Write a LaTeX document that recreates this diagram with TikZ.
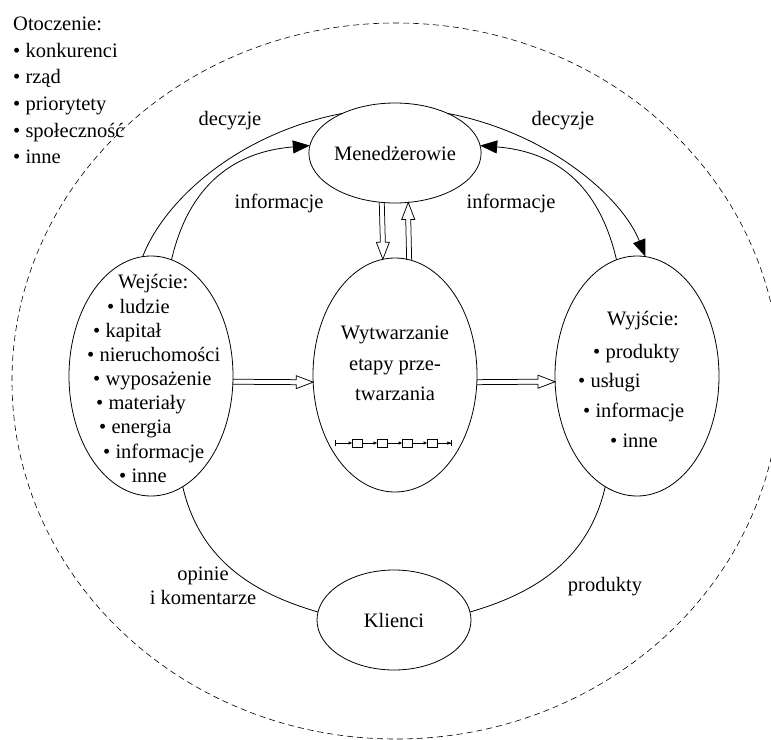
\documentclass[tikz,border=0pt]{standalone}
\usepackage{fontspec}
\setmainfont{Liberation Serif}
\usetikzlibrary{arrows.meta,calc,shapes.geometric}
\begin{document}
\begin{tikzpicture}[x=1pt,y=-1pt,
  txt/.style={font=\fontsize{20.5}{24}\selectfont, inner sep=0pt},
  lst/.style={txt, anchor=base west},
  ctr/.style={txt, anchor=base},
  ell/.style={draw, ellipse, line width=0.8pt, inner sep=0pt, outer sep=0pt, font=\fontsize{20.5}{24}\selectfont},
  bigell/.style={ell, minimum width=164pt, minimum height=240pt},
  midell/.style={ell, minimum width=164pt, minimum height=234pt},
  smallell/.style={ell, minimum width=154pt, minimum height=100pt},
  conn/.style={line width=0.8pt},
  bigtip/.style={-{Triangle[length=17pt,width=13pt]}},
  hollow/.style={line width=0.75pt, line join=miter},
  cbox/.style={draw, line width=0.6pt, minimum width=10pt, minimum height=8pt, inner sep=0pt, outer sep=0pt},
  clink/.style={line width=0.6pt, -{Latex[length=4pt,width=3.5pt]}}
]
\useasboundingbox (0,0) rectangle (771,739);
\begin{scope}
  \clip (0,0) rectangle (771,739);
  \draw[dash pattern=on 6pt off 4pt, line width=0.6pt] (396,381) ellipse [x radius=384pt, y radius=358pt];
\end{scope}

% main nodes
\node[smallell] (men) at (395,153) {Menedżerowie};
\node[bigell] (wej) at (151,376) {};
\node[midell] (wyt) at (395,375) {};
\node[bigell] (wyj) at (637,376) {};
\node[smallell] (kli) at (394,620) {Klienci};

% curved connectors
\draw[conn] (wej.94) .. controls +(22,-57) and +(-104,20) .. (men.143);
\draw[conn, bigtip] (wej.80) .. controls +(18,-77) and +(-74,6) .. (men.175);
\draw[conn, bigtip] (men.37) .. controls +(104,20) and +(-22,-57) .. (wyj.86);
\draw[conn, bigtip] (wyj.100) .. controls +(-18,-77) and +(74,6) .. (men.5);
\draw[conn] (wej.-74) .. controls +(18,78) and +(-58,-17) .. (kli.174);
\draw[conn] (wyj.-106) .. controls +(-18,78) and +(58,-17) .. (kli.6);

% hollow arrows
\coordinate (h1t) at (wej.-4.3);
\coordinate (h1p) at (wyt.185);
\draw[hollow] ($(h1t)+(0,-2.5)$) -- ($(h1p)+(-17,-2.5)$) -- ($(h1p)+(-17,-6.5)$) -- (h1p) -- ($(h1p)+(-17,6.5)$) -- ($(h1p)+(-17,2.5)$) -- ($(h1t)+(0,2.5)$);
\coordinate (h2t) at (wyt.-5);
\coordinate (h2p) at (wyj.184.3);
\draw[hollow] ($(h2t)+(0,-2.5)$) -- ($(h2p)+(-17,-2.5)$) -- ($(h2p)+(-17,-6.5)$) -- (h2p) -- ($(h2p)+(-17,6.5)$) -- ($(h2p)+(-17,2.5)$) -- ($(h2t)+(0,2.5)$);
\coordinate (h3t) at (men.-105);
\coordinate (h3p) at (wyt.96.4);
\draw[hollow] ($(h3t)+(-2.5,0)$) -- ($(h3p)+(-2.5,-17)$) -- ($(h3p)+(-6.5,-17)$) -- (h3p) -- ($(h3p)+(6.5,-17)$) -- ($(h3p)+(2.5,-17)$) -- ($(h3t)+(2.5,0)$);
\coordinate (h4t) at (wyt.83.6);
\coordinate (h4p) at (men.-75);
\draw[hollow] ($(h4t)+(-2.5,0)$) -- ($(h4p)+(-2.5,17)$) -- ($(h4p)+(-6.5,17)$) -- (h4p) -- ($(h4p)+(6.5,17)$) -- ($(h4p)+(2.5,17)$) -- ($(h4t)+(2.5,0)$);

% process chain
\coordinate (cs) at (335,443);
\node[cbox] (c1) at (357.5,443) {};
\node[cbox] (c2) at (382.5,443) {};
\node[cbox] (c3) at (407.5,443) {};
\node[cbox] (c4) at (432.5,443) {};
\coordinate (ce) at (452,443);
\draw[line width=0.6pt, {Bar[width=6pt]}-{Latex[length=4pt,width=3.5pt]}] (cs) -- (c1);
\draw[clink] (c1) -- (c2);
\draw[clink] (c2) -- (c3);
\draw[clink] (c3) -- (c4);
\draw[line width=0.6pt, -{Latex[length=4pt,width=3.5pt]Bar[width=6pt]}] (c4) -- (ce);

% environment list
\node[lst] (ot0) at (13,30) {Otoczenie:};
\node[lst] (ot1) at (13,57) {• konkurenci};
\node[lst] (ot2) at (13,83) {• rząd};
\node[lst] (ot3) at (13,110) {• priorytety};
\node[lst] (ot4) at (13,137) {• społeczność};
\node[lst] (ot5) at (13,163) {• inne};

% arc labels
\node[ctr] (d1) at (230,125) {decyzje};
\node[ctr] (d2) at (563,125) {decyzje};
\node[ctr] (i1) at (279,208) {informacje};
\node[ctr] (i2) at (511,208) {informacje};
\node[ctr] (op1) at (203,580) {opinie};
\node[ctr] (op2) at (203,604) {i komentarze};
\node[ctr] (pr) at (605,591) {produkty};

% production text
\node[ctr] (w1) at (395,339) {Wytwarzanie};
\node[ctr] (w2) at (395,370) {etapy prze-};
\node[ctr] (w3) at (395,400) {twarzania};

% input list
\node[lst] (e0) at (118,288) {Wejście:};
\node[lst] (e1) at (107,313) {• ludzie};
\node[lst] (e2) at (93,337) {• kapitał};
\node[lst] (e3) at (87,361) {• nieruchomości};
\node[lst] (e4) at (93,385) {• wyposażenie};
\node[lst] (e5) at (96,409) {• materiały};
\node[lst] (e6) at (99,433) {• energia};
\node[lst] (e7) at (103,458) {• informacje};
\node[lst] (e8) at (119,482) {• inne};

% output list
\node[lst] (o0) at (607,325) {Wyjście:};
\node[lst] (o1) at (593,358) {• produkty};
\node[lst] (o2) at (578,387) {• usługi};
\node[lst] (o3) at (583,417) {• informacje};
\node[lst] (o4) at (610,447) {• inne};
\end{tikzpicture}
\end{document}
